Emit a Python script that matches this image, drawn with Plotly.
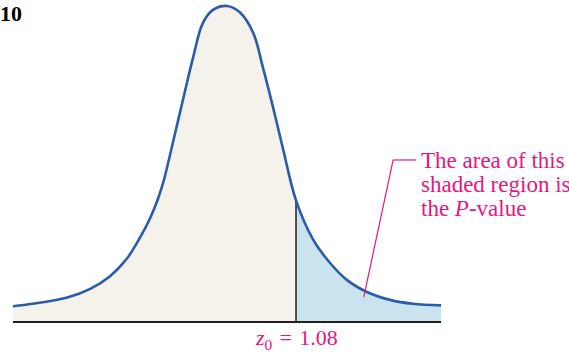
import plotly.graph_objects as go

# Curve: z positions and density heights
z_vals = [-3.35, -3.04, -2.50, -2.14, -1.83, -1.56, -1.36, -1.20, -1.08, -0.99,
          -0.85, -0.69, -0.53, -0.38, -0.22, 0.00, 0.20, 0.41, 0.56, 0.72,
          0.88, 1.08, 1.35, 1.61, 1.88, 2.19, 2.55, 2.91, 3.35]
density = [0.020, 0.023, 0.031, 0.042, 0.058, 0.081, 0.107, 0.132, 0.156, 0.179,
           0.226, 0.281, 0.335, 0.378, 0.395, 0.400, 0.392, 0.366, 0.323, 0.272,
           0.218, 0.154, 0.104, 0.075, 0.053, 0.038, 0.028, 0.023, 0.021]
z0 = 1.08
z0_label = "<i>z</i><sub>0</sub>\u200a = \u200a1.08"
callout_lines = ["The area of this", "shaded region is", "the <i>P</i>-value"]
fig_number = "10"

MAGENTA = "#E3177F"
BLUE = "#2B5CA8"
BEIGE = "#F5F2EC"
LIGHTBLUE = "#C9E4EE"
INK = "#231F20"
SERIF = "Liberation Serif, Times New Roman, serif"

left_z = [z for z in z_vals if z <= z0]
left_d = [d for z, d in zip(z_vals, density) if z <= z0]
right_z = [z for z in z_vals if z >= z0]
right_d = [d for z, d in zip(z_vals, density) if z >= z0]
d_z0 = density[z_vals.index(z0)]

fig = go.Figure()
fig.add_trace(go.Scatter(x=left_z, y=left_d, mode="lines", fill="tozeroy",
                         fillcolor=BEIGE, line=dict(width=0, shape="spline"),
                         hoverinfo="skip", showlegend=False))
fig.add_trace(go.Scatter(x=right_z, y=right_d, mode="lines", fill="tozeroy",
                         fillcolor=LIGHTBLUE, line=dict(width=0, shape="spline"),
                         hoverinfo="skip", showlegend=False))
# z0 vertical line
fig.add_trace(go.Scatter(x=[z0, z0], y=[0, d_z0], mode="lines",
                         line=dict(color=INK, width=1.5), hoverinfo="skip", showlegend=False))
# baseline
fig.add_trace(go.Scatter(x=[z_vals[0], z_vals[-1]], y=[0, 0], mode="lines",
                         line=dict(color=INK, width=2), hoverinfo="skip", showlegend=False))
# curve
fig.add_trace(go.Scatter(x=z_vals, y=density, mode="lines",
                         line=dict(color=BLUE, width=2.6, shape="spline"),
                         hoverinfo="skip", showlegend=False))

# callout leader line
fig.add_shape(type="line", x0=2.60, y0=0.2051, x1=2.96, y1=0.2051, xref="x", yref="y",
              line=dict(color=MAGENTA, width=1.2))
fig.add_shape(type="line", x0=2.60, y0=0.2051, x1=2.14, y1=0.0316, xref="x", yref="y",
              line=dict(color=MAGENTA, width=1.2))

ann = []
for txt, py in zip(callout_lines, [160, 184, 208]):
    ann.append(dict(text=txt, x=420 / 569, y=1 - py / 354, xref="paper", yref="paper",
                    xanchor="left", yanchor="middle", showarrow=False, borderpad=0,
                    font=dict(family=SERIF, size=23, color=MAGENTA)))
ann.append(dict(text=z0_label, x=z0, y=-0.0215, xref="x", yref="y",
                xanchor="center", yanchor="middle", showarrow=False, borderpad=0,
                font=dict(family=SERIF, size=22, color=MAGENTA)))
ann.append(dict(text="<b>" + fig_number + "</b>", x=-0.002, y=1 - 13.3 / 354,
                xref="paper", yref="paper", xanchor="left", yanchor="middle",
                showarrow=False, borderpad=0,
                font=dict(family=SERIF, size=22, color="#000000")))

px_per_z = 63.9
px_per_d = 790.0
fig.update_layout(
    width=569, height=354,
    margin=dict(l=0, r=0, t=0, b=0),
    paper_bgcolor="white", plot_bgcolor="white",
    xaxis=dict(range=[-227 / px_per_z, (569 - 227) / px_per_z], visible=False, fixedrange=True),
    yaxis=dict(range=[-(354 - 322) / px_per_d, 322 / px_per_d], visible=False, fixedrange=True),
    annotations=ann,
    showlegend=False,
)
fig.write_html("out.html", config={"displayModeBar": False},
               post_script="document.body.style.margin='0px';document.body.style.overflow='hidden';")
